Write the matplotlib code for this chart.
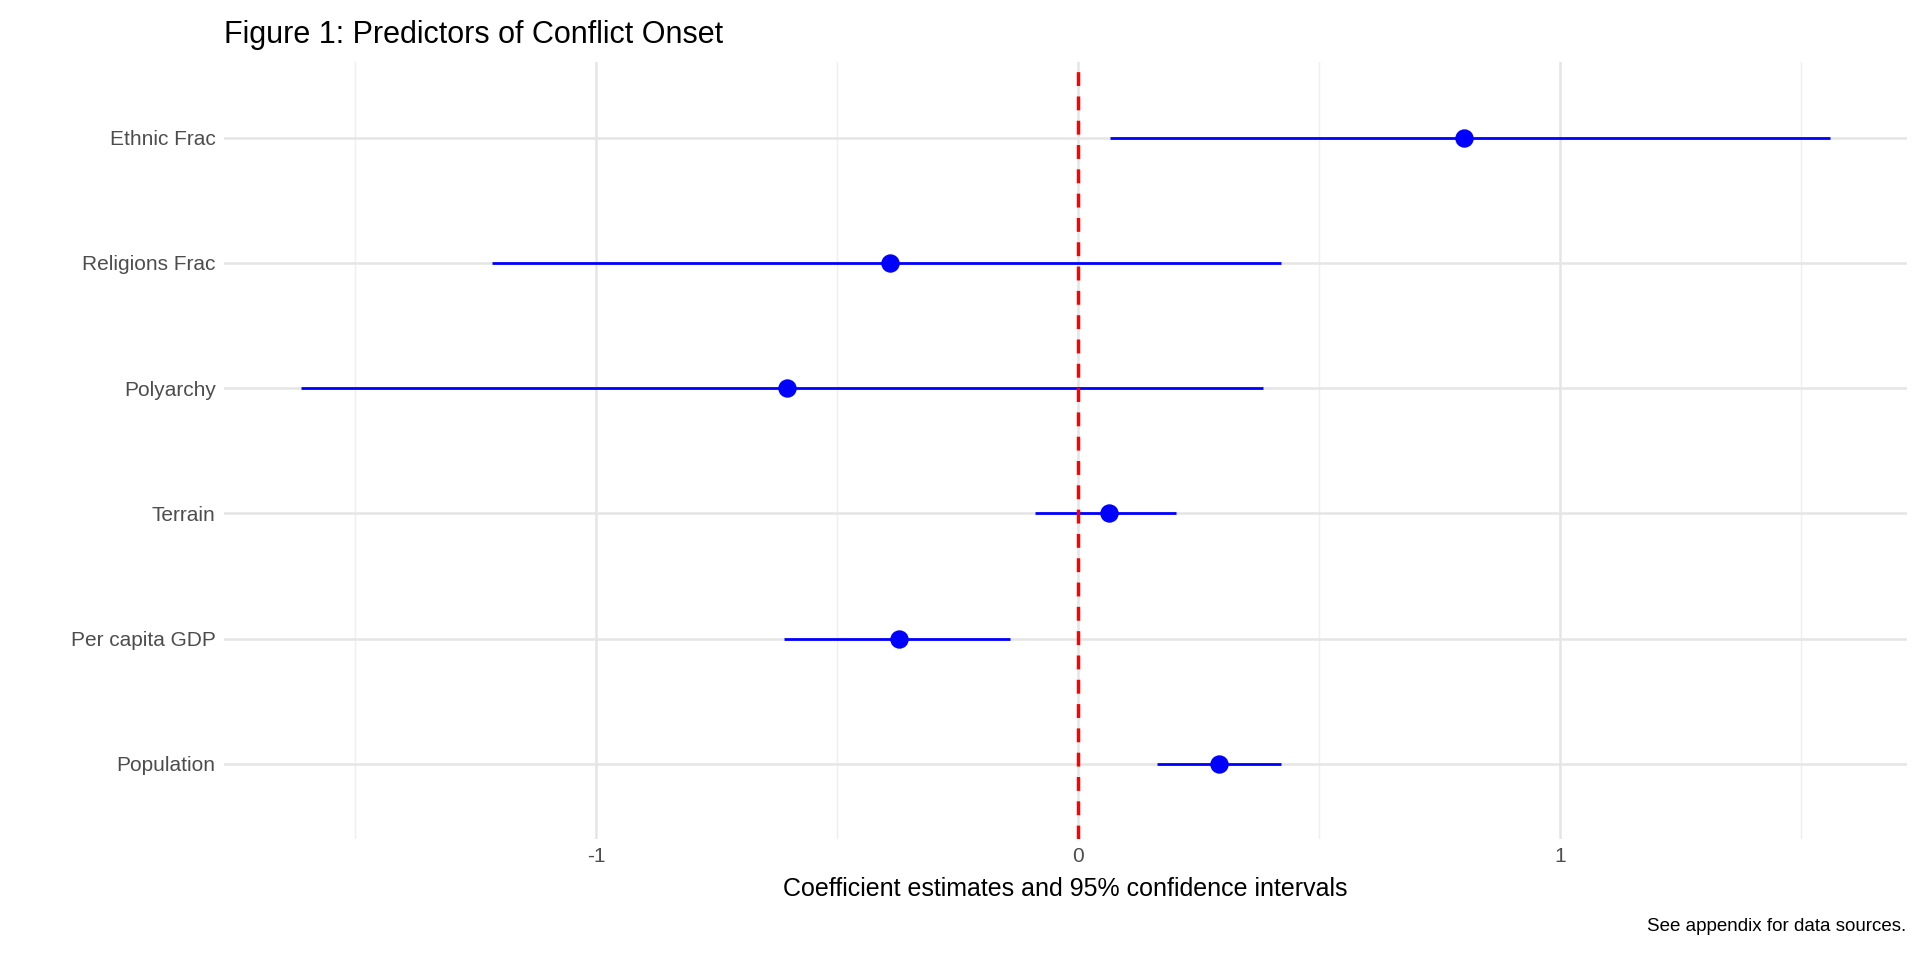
import matplotlib.pyplot as plt
import numpy as np

plt.rcParams['font.family'] = ['Liberation Sans', 'DejaVu Sans']

terms = ["Population", "Per capita GDP", "Terrain", "Polyarchy", "Religions Frac", "Ethnic Frac"]
estimate = [0.293, -0.371, 0.064, -0.603, -0.39, 0.80]
ci_low = [0.163, -0.611, -0.089, -1.613, -1.216, 0.066]
ci_high = [0.422, -0.142, 0.204, 0.384, 0.42, 1.56]

fig = plt.figure(figsize=(19.2, 9.6), dpi=100)
ax = fig.add_axes([0.1167, 0.126, 0.8763, 0.809])

y = np.arange(1, len(terms) + 1)
ax.hlines(y, ci_low, ci_high, color="blue", linewidth=2, zorder=3)
ax.scatter(estimate, y, color="blue", s=150, zorder=4)
ax.axvline(0, color="red", linestyle=(0, (4, 3)), linewidth=2.5, zorder=5)

ax.set_xlim(-1.772, 1.719)
ax.set_ylim(0.4, 6.6)
ax.set_yticks(y)
ax.set_yticklabels(terms)
ax.set_xticks([-1, 0, 1])
ax.set_xticklabels(["-1", "0", "1"])
ax.set_xticks([-1.5, -0.5, 0.5, 1.5], minor=True)
ax.grid(True, which="major", color="#e5e5e5", linewidth=1.8)
ax.grid(True, which="minor", axis="x", color="#efefef", linewidth=1.0)
ax.tick_params(which="both", length=0, labelsize=15, colors="#4d4d4d", pad=6)
for s in ax.spines.values():
    s.set_visible(False)

ax.set_xlabel("Coefficient estimates and 95% confidence intervals", fontsize=18, labelpad=8)
fig.text(0.1167, 0.955, "Figure 1: Predictors of Conflict Onset", fontsize=22, ha="left", va="baseline")
fig.text(0.993, 0.03, "See appendix for data sources.", fontsize=13.5, ha="right", va="baseline")

fig.savefig("out.png", dpi=100)
